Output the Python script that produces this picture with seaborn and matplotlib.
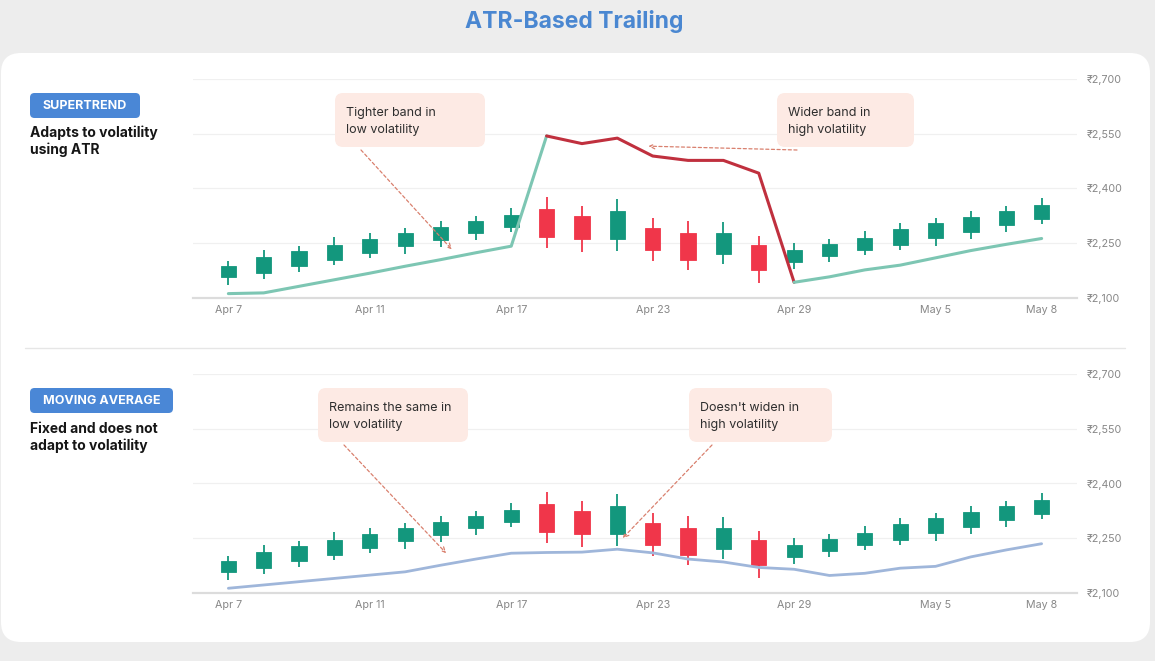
import matplotlib
matplotlib.use("Agg")
import matplotlib.pyplot as plt
import seaborn as sns
import pandas as pd
from matplotlib.patches import FancyBboxPatch
from matplotlib.lines import Line2D

# ---------------- data ----------------
dates = ["Apr 7", "Apr 8", "Apr 9", "Apr 10", "Apr 11", "Apr 14", "Apr 15", "Apr 16",
         "Apr 17", "Apr 18", "Apr 21", "Apr 22", "Apr 23", "Apr 24", "Apr 25", "Apr 28",
         "Apr 29", "Apr 30", "May 1", "May 2", "May 5", "May 6", "May 7", "May 8"]
opens = [2158, 2169, 2188, 2205, 2223, 2242, 2260, 2278, 2295, 2345, 2325, 2263,
         2291, 2278, 2220, 2244, 2198, 2214, 2232, 2244, 2264, 2282, 2300, 2317]
closes = [2188, 2213, 2230, 2246, 2262, 2279, 2295, 2312, 2327, 2266, 2262, 2338,
          2231, 2205, 2278, 2176, 2231, 2248, 2264, 2290, 2306, 2323, 2338, 2355]
highs = [2201, 2231, 2243, 2266, 2279, 2291, 2312, 2325, 2347, 2376, 2352, 2370,
         2319, 2312, 2307, 2271, 2250, 2262, 2284, 2306, 2318, 2339, 2353, 2373]
lows = [2136, 2151, 2170, 2190, 2209, 2220, 2240, 2259, 2280, 2238, 2226, 2229,
        2200, 2176, 2193, 2140, 2179, 2198, 2217, 2231, 2242, 2262, 2282, 2302]
supertrend = [2112, 2114, 2132, 2150, 2168, 2187, 2205, 2224, 2242, 2544, 2523, 2538,
              2489, 2477, 2477, 2442, 2143, 2158, 2177, 2190, 2210, 2230, 2247, 2263]
st_direction = ["up", "up", "up", "up", "up", "up", "up", "up", "up",
                "down", "down", "down", "down", "down", "down", "down",
                "up", "up", "up", "up", "up", "up", "up", "up"]
moving_avg = [2113, 2122, 2131, 2140, 2149, 2158, 2176, 2193, 2209, 2211, 2212, 2220,
              2210, 2193, 2185, 2170, 2165, 2148, 2154, 2168, 2173, 2199, 2218, 2235]
tick_dates = ["Apr 7", "Apr 11", "Apr 17", "Apr 23", "Apr 29", "May 5", "May 8"]
y_ticks = [2100, 2250, 2400, 2550, 2700]

# ---------------- style ----------------
sns.set_theme(style="white")
plt.rcParams["font.family"] = ["Inter", "DejaVu Sans"]

W, H = 1155, 661
BG = "#ededed"
GREEN = "#13977d"
RED = "#f0364a"
ST_GREEN = "#7dc6b3"
ST_RED = "#c0303e"
MA_BLUE = "#9fb6da"
BADGE = "#4a87d6"
NOTE_FILL = "#fdeae4"
ARROW = "#d9806e"

fig = plt.figure(figsize=(W / 100, H / 100), dpi=100, facecolor=BG)
T = fig.dpi_scale_trans


def P(x, y):
    """top-left pixel coords -> inches from bottom-left"""
    return x / 100, (H - y) / 100


# white card
card = FancyBboxPatch(P(1, 642), 1149 / 100, 589 / 100,
                      boxstyle="round,pad=0,rounding_size=0.2",
                      transform=T, facecolor="white", edgecolor="none", zorder=-10)
fig.patches.append(card)

# title
fig.text(*P(574, 28), "ATR-Based Trailing", transform=T, ha="center", va="baseline",
         fontsize=16.5, fontweight="bold", color="#4a87d1")

# divider
fig.add_artist(Line2D([25 / 100, 1125 / 100], [(H - 348) / 100] * 2, transform=T,
                      color="#e6e6e6", lw=1, zorder=1))

x_idx = list(range(len(dates)))
tick_pos = [dates.index(d) for d in tick_dates]


def draw_candles(ax):
    colors = [GREEN if c >= o else RED for o, c in zip(opens, closes)]
    ax.vlines(x_idx, lows, highs, colors=colors, lw=1.3, zorder=2)
    bottoms = [min(o, c) for o, c in zip(opens, closes)]
    heights = [abs(c - o) for o, c in zip(opens, closes)]
    ax.bar(x_idx, heights, bottom=bottoms, width=0.43, color=colors,
           edgecolor=colors, linewidth=0.6, zorder=3)


def style_axis(ax):
    ax.set_xlim(-1, 24)
    ax.set_ylim(2100, 2700)
    ax.set_facecolor("none")
    for s in ["top", "left", "right"]:
        ax.spines[s].set_visible(False)
    ax.spines["bottom"].set_color("#dcdcdc")
    ax.spines["bottom"].set_linewidth(1.6)
    ax.yaxis.tick_right()
    ax.set_yticks(y_ticks)
    ax.set_yticklabels([f"\u20b9{v:,}" for v in y_ticks])
    ax.set_xticks(tick_pos)
    ax.set_xticklabels(tick_dates)
    ax.tick_params(axis="y", length=0, pad=7, labelsize=7.7, labelcolor="#878787")
    ax.tick_params(axis="x", length=0, pad=5, labelsize=7.7, labelcolor="#878787")
    ax.yaxis.grid(True, color="#f0f0f0", lw=0.9)
    ax.xaxis.grid(False)
    ax.set_axisbelow(True)
    ax.set_xlabel("")
    ax.set_ylabel("")


ax_w = 884 / W
ax_h = 219 / H
ax1 = fig.add_axes([193 / W, (H - 298) / H, ax_w, ax_h])
ax2 = fig.add_axes([193 / W, (H - 593) / H, ax_w, ax_h])

# ---- top: supertrend ----
rows = []
seg = 0
start = 0
n = len(supertrend)
while start < n:
    end = start
    while end + 1 < n and st_direction[end + 1] == st_direction[start]:
        end += 1
    last = min(end + 1, n - 1)
    for i in range(start, last + 1):
        rows.append({"x": i, "value": supertrend[i], "seg": f"s{seg}",
                     "dir": st_direction[start]})
    seg += 1
    start = end + 1
st_df = pd.DataFrame(rows)
palette = {s: (ST_GREEN if d == "up" else ST_RED)
           for s, d in st_df[["seg", "dir"]].drop_duplicates().values}

draw_candles(ax1)
sns.lineplot(data=st_df, x="x", y="value", hue="seg", palette=palette, estimator=None,
             sort=False, lw=2.2, legend=False, ax=ax1, zorder=4)
style_axis(ax1)

# ---- bottom: moving average ----
ma_df = pd.DataFrame({"x": x_idx, "value": moving_avg})
draw_candles(ax2)
sns.lineplot(data=ma_df, x="x", y="value", color=MA_BLUE, lw=2.0, ax=ax2, zorder=4)
style_axis(ax2)


# ---------------- left labels ----------------
def badge(x0, y0, x1, y1, text):
    fig.patches.append(FancyBboxPatch(P(x0, y1), (x1 - x0) / 100, (y1 - y0) / 100,
                                      boxstyle="round,pad=0,rounding_size=0.045",
                                      transform=T, facecolor=BADGE, edgecolor="none",
                                      zorder=3))
    fig.text(*P((x0 + x1) / 2, (y0 + y1) / 2 + 0.5), text, transform=T, ha="center",
             va="center", fontsize=9, fontweight="bold", color="white", zorder=4)


badge(30, 93, 140, 118, "SUPERTREND")
badge(30, 388, 173, 413, "MOVING AVERAGE")

for i, line in enumerate(["Adapts to volatility", "using ATR"]):
    fig.text(*P(30, 137 + 17 * i), line, transform=T, ha="left", va="baseline",
             fontsize=10, fontweight="bold", color="#161616")
for i, line in enumerate(["Fixed and does not", "adapt to volatility"]):
    fig.text(*P(30, 433 + 17 * i), line, transform=T, ha="left", va="baseline",
             fontsize=10, fontweight="bold", color="#161616")


# ---------------- annotations ----------------
def note(x0, y0, x1, y1, lines):
    fig.patches.append(FancyBboxPatch(P(x0, y1), (x1 - x0) / 100, (y1 - y0) / 100,
                                      boxstyle="round,pad=0,rounding_size=0.08",
                                      transform=T, facecolor=NOTE_FILL, edgecolor="none",
                                      zorder=3))
    for i, line in enumerate(lines):
        fig.text(*P(x0 + 11, y0 + 23 + 17 * i), line, transform=T, ha="left",
                 va="baseline", fontsize=9, color="#2e2e2e", zorder=4)


def arrow(ax, tip, start_px):
    ax.annotate("", xy=tip, xycoords="data",
                xytext=(start_px[0], H - start_px[1]), textcoords="figure pixels",
                annotation_clip=False,
                arrowprops=dict(arrowstyle="->", color=ARROW, lw=0.9,
                                linestyle=(0, (2.5, 2)), shrinkA=0, shrinkB=0,
                                mutation_scale=9),
                zorder=6)


note(335, 93, 485, 147, ["Tighter band in", "low volatility"])
note(777, 93, 914, 147, ["Wider band in", "high volatility"])
note(318, 388, 468, 442, ["Remains the same in", "low volatility"])
note(689, 388, 832, 442, ["Doesn't widen in", "high volatility"])

arrow(ax1, (6.32, 2233), (361, 150))
arrow(ax1, (11.88, 2516), (797, 150))
arrow(ax2, (6.16, 2209), (344, 445))
arrow(ax2, (11.15, 2250), (712, 445))

fig.savefig("out.png", dpi=100, facecolor=BG)
